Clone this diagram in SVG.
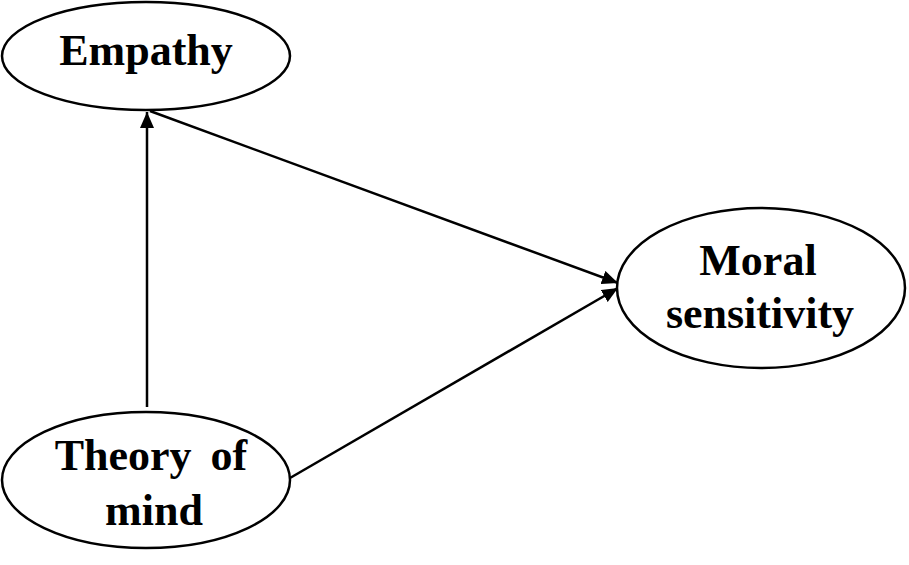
<svg xmlns="http://www.w3.org/2000/svg" width="909" height="565" viewBox="0 0 909 565">
<defs>
<style>
.node{fill:#fff;stroke:#000;stroke-width:2.5}
.lbl{font-family:"Liberation Serif","Times New Roman",serif;font-weight:bold;font-size:44px;fill:#000;text-anchor:middle}
.edge{stroke:#000;stroke-width:2.5;fill:none;marker-end:url(#arr)}
</style>
<marker id="arr" viewBox="0 0 16 14" refX="16" refY="7" markerWidth="16" markerHeight="14" markerUnits="userSpaceOnUse" orient="auto">
<path d="M0,0 L16,7 L0,14 Z" fill="#000"/>
</marker>
</defs>
<rect width="909" height="565" fill="#fff"/>
<g id="connectors">
<line class="edge" x1="147" y1="407" x2="147" y2="112"/>
<line class="edge" x1="150" y1="111" x2="618" y2="283"/>
<line class="edge" x1="290" y1="478" x2="618" y2="288"/>
</g>
<g id="empathy">
<ellipse class="node" cx="146" cy="56" rx="144" ry="54"/>
<text class="lbl" x="146" y="65">Empathy</text>
</g>
<g id="moral-sensitivity">
<ellipse class="node" cx="761" cy="288" rx="144" ry="80"/>
<text class="lbl" x="758" y="275">Moral</text>
<text class="lbl" x="760" y="328">sensitivity</text>
</g>
<g id="theory-of-mind">
<ellipse class="node" cx="146" cy="480" rx="144" ry="68"/>
<text class="lbl" x="151" y="470" word-spacing="8">Theory of</text>
<text class="lbl" x="154" y="525">mind</text>
</g>
</svg>
